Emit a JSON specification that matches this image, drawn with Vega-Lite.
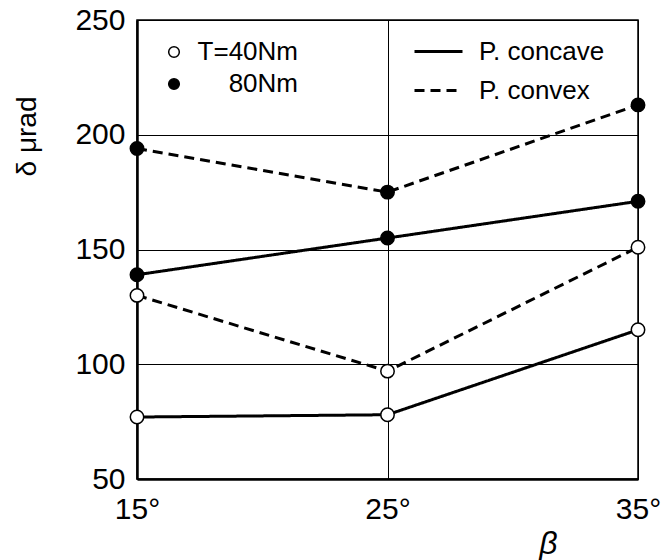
{
  "$schema": "https://vega.github.io/schema/vega-lite/v6.json",
  "width": 501,
  "height": 459,
  "autosize": {"type": "none"},
  "padding": {"left": 137, "top": 20, "right": 30, "bottom": 81},
  "background": "white",
  "config": {
    "font": "Liberation Sans",
    "view": {"stroke": "black", "strokeWidth": 1.5},
    "axis": {
      "gridColor": "black", "gridOpacity": 1, "gridWidth": 1,
      "domainColor": "black", "domainWidth": 2.5,
      "ticks": false,
      "labelColor": "black", "labelFontSize": 30,
      "titleColor": "black", "titleFontWeight": "normal"
    },
    "legend": {"labelColor": "black", "labelFont": "Liberation Sans"}
  },
  "data": {
    "values": [
      {"beta": 15, "torque": "T=40Nm", "profile": "P. concave", "delta": 77},
      {"beta": 25, "torque": "T=40Nm", "profile": "P. concave", "delta": 78},
      {"beta": 35, "torque": "T=40Nm", "profile": "P. concave", "delta": 115},
      {"beta": 15, "torque": "T=40Nm", "profile": "P. convex", "delta": 130},
      {"beta": 25, "torque": "T=40Nm", "profile": "P. convex", "delta": 97},
      {"beta": 35, "torque": "T=40Nm", "profile": "P. convex", "delta": 151},
      {"beta": 15, "torque": "80Nm", "profile": "P. concave", "delta": 139},
      {"beta": 25, "torque": "80Nm", "profile": "P. concave", "delta": 155},
      {"beta": 35, "torque": "80Nm", "profile": "P. concave", "delta": 171},
      {"beta": 15, "torque": "80Nm", "profile": "P. convex", "delta": 194},
      {"beta": 25, "torque": "80Nm", "profile": "P. convex", "delta": 175},
      {"beta": 35, "torque": "80Nm", "profile": "P. convex", "delta": 213}
    ]
  },
  "encoding": {
    "x": {
      "field": "beta", "type": "quantitative",
      "scale": {"domain": [15, 35]},
      "axis": {
        "values": [15, 25, 35],
        "labelExpr": "datum.value + '°'",
        "labelPadding": 15,
        "labelFlush": false,
        "title": "β",
        "titleFontStyle": "italic",
        "titleFontSize": 32,
        "titleX": 411,
        "titleY": 64,
        "titleBaseline": "middle"
      }
    },
    "y": {
      "field": "delta", "type": "quantitative",
      "scale": {"domain": [50, 250]},
      "axis": {
        "values": [50, 100, 150, 200, 250],
        "labelPadding": 12,
        "title": "δ μrad",
        "titleFontSize": 28,
        "titleX": -110,
        "titleY": 116,
        "titleAngle": -90,
        "titleAlign": "center",
        "titleBaseline": "middle"
      }
    }
  },
  "layer": [
    {
      "mark": {"type": "line", "color": "black", "strokeWidth": 3},
      "encoding": {
        "detail": {"field": "torque", "type": "nominal"},
        "strokeDash": {
          "field": "profile", "type": "nominal",
          "scale": {"domain": ["P. concave", "P. convex"], "range": [[1, 0], [10, 6]]},
          "legend": {
            "orient": "none", "legendX": 276, "legendY": 6,
            "title": null,
            "symbolType": "stroke",
            "symbolSize": 2304,
            "symbolStrokeWidth": 3,
            "symbolStrokeColor": "black",
            "labelFontSize": 26,
            "labelOffset": 15,
            "padding": 0,
            "rowPadding": -22
          }
        }
      }
    },
    {
      "mark": {"type": "point", "shape": "circle", "filled": true, "stroke": "black", "strokeWidth": 1.5, "size": 180, "opacity": 1},
      "encoding": {
        "fill": {
          "field": "torque", "type": "nominal",
          "scale": {"domain": ["T=40Nm", "80Nm"], "range": ["white", "black"]},
          "legend": {
            "orient": "none", "legendX": 24, "legendY": 19,
            "title": null,
            "symbolType": "circle",
            "symbolSize": 113,
            "symbolStrokeColor": "black",
            "symbolStrokeWidth": 1.5,
            "labelFontSize": 26,
            "labelAlign": "right",
            "labelOffset": 111,
            "padding": 0,
            "rowPadding": 6
          }
        }
      }
    }
  ]
}
